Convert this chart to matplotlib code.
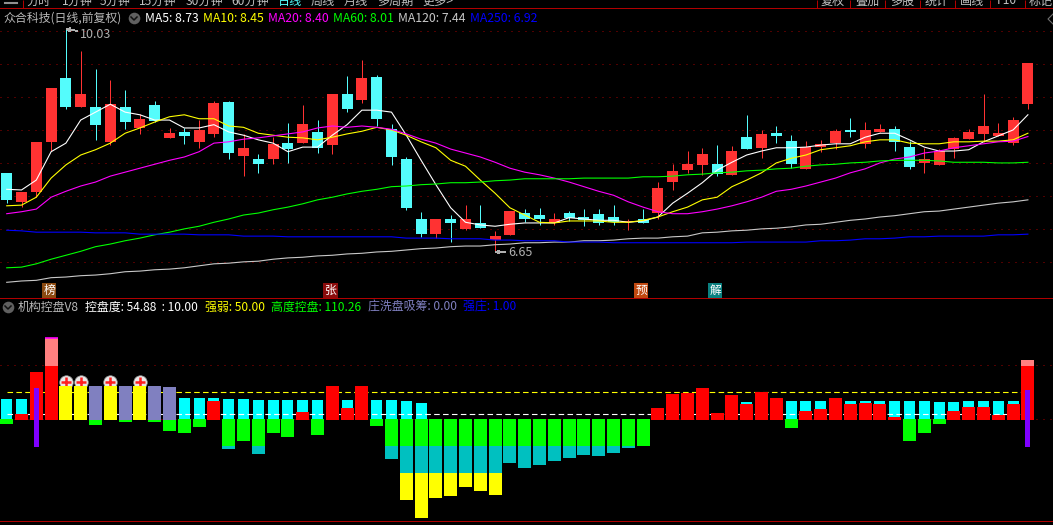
import matplotlib
matplotlib.use('Agg')
import matplotlib.pyplot as plt
import numpy as np

plt.rcParams['font.family'] = ['Noto Sans CJK SC', 'DejaVu Sans']
plt.rcParams['patch.antialiased'] = False

# daily candles
opens = [7.85,7.41,7.56,8.32,9.29,8.85,8.85,8.32,8.85,8.53,8.88,8.38,8.47,8.32,8.44,8.92,8.11,8.06,8.06,8.30,8.30,8.47,8.27,9.05,
         8.95,9.30,8.51,8.06,7.15,6.92,7.15,7.00,7.09,6.83,6.91,7.24,7.21,7.09,7.24,7.18,7.23,7.18,7.10,7.15,7.24,7.71,7.89,7.97,
         7.98,7.82,8.39,8.23,8.45,8.33,7.91,8.24,8.30,8.50,8.29,8.47,8.51,8.24,8.00,7.97,8.21,8.36,8.44,8.41,8.30,8.89]
closes = [7.44,7.56,8.32,9.14,8.85,9.05,8.58,8.89,8.62,8.67,8.64,8.45,8.41,8.50,8.91,8.15,8.23,7.98,8.29,8.21,8.59,8.23,9.05,8.82,
          9.29,8.67,8.09,7.32,6.92,7.15,7.09,7.15,7.01,6.89,7.27,7.15,7.15,7.15,7.17,7.13,7.09,7.10,7.12,7.09,7.62,7.88,7.98,8.14,
          7.83,8.18,8.21,8.44,8.41,7.98,8.24,8.29,8.48,8.47,8.50,8.51,8.32,7.94,8.06,8.18,8.38,8.47,8.56,8.45,8.65,9.51]
highs = [7.85,7.56,8.32,9.14,10.03,9.70,9.42,9.26,9.11,8.74,8.94,8.53,8.53,8.65,8.94,8.94,8.44,8.14,8.39,8.61,8.88,8.65,9.05,9.32,
         9.56,9.33,8.59,8.09,7.26,7.15,7.21,7.36,7.36,6.97,7.27,7.30,7.32,7.24,7.27,7.30,7.30,7.36,7.15,7.30,7.71,7.98,8.18,8.23,
         8.27,8.26,8.73,8.50,8.56,8.42,8.33,8.35,8.51,8.68,8.62,8.59,8.56,8.33,8.23,8.21,8.39,8.51,9.05,8.61,8.70,9.51]
lows = [7.39,7.33,7.48,8.18,8.82,8.85,8.35,8.27,8.51,8.44,8.62,8.38,8.29,8.23,8.39,8.06,7.80,7.85,7.98,8.00,8.30,8.15,8.14,8.77,
        8.91,8.56,7.97,7.29,6.88,6.86,6.80,6.98,7.01,6.65,6.91,7.10,7.06,7.06,7.12,7.04,7.06,7.06,6.98,7.09,7.15,7.59,7.85,7.82,
        7.80,7.82,8.21,8.07,8.30,7.92,7.91,8.17,8.21,8.39,8.23,8.47,8.18,7.91,7.85,7.97,8.07,8.36,8.32,8.41,8.27,8.82]

ma5 = [7.60,7.59,7.74,8.17,8.30,8.65,8.77,8.89,8.77,8.73,8.65,8.65,8.53,8.53,8.58,8.47,8.42,8.35,8.30,8.17,8.24,8.24,8.42,8.58,
       8.80,8.80,8.77,8.42,8.04,7.67,7.32,7.10,7.06,7.04,7.07,7.09,7.09,7.09,7.17,7.15,7.13,7.13,7.10,7.12,7.18,7.39,7.54,7.70,
       7.89,8.01,8.12,8.18,8.23,8.23,8.24,8.27,8.29,8.29,8.39,8.45,8.45,8.35,8.24,8.18,8.18,8.20,8.32,8.41,8.50,8.73]
ma10 = [7.35,7.36,7.48,7.77,7.97,8.12,8.20,8.30,8.45,8.53,8.62,8.70,8.73,8.67,8.67,8.56,8.54,8.45,8.42,8.39,8.38,8.35,8.39,8.44,
        8.48,8.54,8.50,8.42,8.32,8.23,8.04,7.95,7.74,7.54,7.32,7.21,7.10,7.09,7.12,7.12,7.12,7.10,7.10,7.13,7.18,7.26,7.33,7.44,
        7.48,7.64,7.74,7.85,8.00,8.07,8.12,8.20,8.23,8.26,8.32,8.35,8.35,8.30,8.29,8.29,8.32,8.32,8.33,8.33,8.35,8.45]
ma20 = [7.23,7.26,7.30,7.48,7.57,7.65,7.71,7.80,7.86,7.92,7.98,8.04,8.09,8.17,8.30,8.32,8.36,8.38,8.41,8.44,8.47,8.53,8.56,8.54,
        8.56,8.54,8.51,8.44,8.36,8.30,8.21,8.15,8.09,8.01,7.92,7.86,7.82,7.77,7.71,7.64,7.57,7.51,7.41,7.33,7.26,7.23,7.23,7.26,
        7.30,7.35,7.41,7.48,7.57,7.60,7.65,7.71,7.77,7.85,7.91,8.00,8.06,8.09,8.15,8.18,8.23,8.26,8.29,8.32,8.33,8.40]
ma60 = [6.41,6.42,6.47,6.54,6.60,6.66,6.73,6.77,6.82,6.86,6.91,6.95,7.00,7.04,7.10,7.15,7.21,7.24,7.29,7.33,7.38,7.44,7.48,7.53,
        7.57,7.60,7.64,7.65,7.67,7.68,7.70,7.70,7.71,7.73,7.74,7.76,7.76,7.76,7.76,7.77,7.77,7.77,7.77,7.79,7.79,7.80,7.82,7.83,
        7.85,7.86,7.88,7.89,7.91,7.92,7.95,7.97,7.98,8.00,8.01,8.03,8.04,8.04,8.04,8.03,8.01,8.01,8.01,8.00,8.00,8.01]
ma120 = [6.19,6.21,6.22,6.26,6.27,6.29,6.30,6.32,6.35,6.36,6.38,6.39,6.41,6.44,6.47,6.48,6.50,6.51,6.54,6.56,6.57,6.59,6.60,6.62,
         6.63,6.65,6.66,6.68,6.70,6.71,6.73,6.74,6.74,6.76,6.77,6.79,6.79,6.80,6.80,6.82,6.82,6.83,6.85,6.86,6.86,6.88,6.89,6.94,
         6.95,6.97,6.98,7.00,7.01,7.03,7.06,7.07,7.10,7.13,7.15,7.18,7.20,7.23,7.26,7.27,7.30,7.33,7.36,7.39,7.41,7.44]
ma250 = [6.98,6.97,6.95,6.95,6.95,6.95,6.94,6.94,6.94,6.92,6.92,6.92,6.92,6.91,6.91,6.91,6.89,6.89,6.89,6.88,6.88,6.88,6.88,6.88,
         6.88,6.88,6.88,6.86,6.86,6.86,6.85,6.85,6.85,6.83,6.83,6.82,6.82,6.82,6.80,6.80,6.80,6.79,6.79,6.79,6.79,6.79,6.79,6.79,
         6.79,6.79,6.80,6.80,6.80,6.80,6.80,6.82,6.82,6.83,6.85,6.85,6.86,6.88,6.88,6.89,6.89,6.89,6.89,6.91,6.91,6.92]

price_grid = [10.0, 9.5, 9.0, 8.5, 8.0, 7.5, 7.0, 6.5]

badge_idx = [3, 22, 43, 48]
badge_txt = ['榜', '张', '预', '解']
badge_col = ['#8b4a10', '#8a0c0c', '#c04810', '#0a8080']

# indicator panel
cyan_top = [37.8,37.8,0,0,0,0,0,0,0,0,0,0,39.7,39.7,39.7,37.8,37.8,36,36,36,36,36,0,36,
            0,36,36,34.2,30.5,0,0,0,0,0,0,0,0,0,0,0,0,0,0,0,0,0,0,0,
            0,0,32.3,0,0,34.2,34.2,34.2,0,34.2,34.2,34.2,34.2,34.2,34.2,32.3,32.3,34.2,34.2,34.2,34.2,0]
red_top = [0,10.2,87.7,98.8,0,0,0,0,0,0,0,0,0,0,34.2,0,0,0,0,0,13.8,0,61.8,21.2,
           61.8,0,0,0,0,0,0,0,0,0,0,0,0,0,0,0,0,0,0,0,21.2,47,48.9,58.2,
           12,45.2,28.6,50.8,39.7,0,15.7,19.4,39.7,28.6,30.5,28.6,4.6,0,0,0,15.7,23.1,23.1,8.3,28.6,98.8]
green_low = [-8.3,0,0,0,0,0,-10.2,0,-4.6,0,-4.6,-21.2,-24.9,-13.8,0,-48.9,-39.7,-48.9,-24.9,-32.3,0,-28.6,0,0,
             0,-12,-48.9,-48.9,-48.9,-48.9,-48.9,-48.9,-48.9,-48.9,-48.9,-48.9,-48.9,-48.9,-48.9,-48.9,-48.9,-48.9,-48.9,-48.9,0,0,0,0,
             0,0,0,0,0,-15.7,0,0,0,0,0,0,0,-39.7,-24.9,-8.3,0,0,0,0,0,0]
teal_idx = [15,17,26,27,28,29,30,31,32,33,34,35,36,37,38,39,40,41,42]
teal_low = [-54.5,-63.7,-72.9,-98.8,-98.8,-98.8,-98.8,-98.8,-98.8,-98.8,-80.3,-89.5,-84,-76.6,-71.1,-65.5,-67.4,-61.8,-52.6]
deep_idx = [27,28,29,30,31,32,33]
deep_low = [-148.6,-181.9,-144.9,-141.2,-124.6,-132,-139.4]
yellow_idx = [4,5,7,9]
yellow_top = [61.8,61.8,61.8,61.8]
slate_idx = [6,8,10,11]
slate_top = [61.8,61.8,61.8,60]
pink_idx = [3,69]
pink_top = [150.5,110.26]
stick_idx = [2,69]
stick_top = [58.2,54.88]
stick_low = [-50.8,-50.8]
plus_y = 70

W, H = 1053, 525
BG = 'black'
LINE_RED = '#b00000'
GRID_RED = '#a00000'
UP_COL = '#ff3232'
DOWN_COL = '#54fcfc'

x = np.arange(len(opens))
xlim = (-6.7 / 14.8, (W - 6.7) / 14.8)

fig = plt.figure(figsize=(W / 100, H / 100), dpi=100, facecolor=BG)

ax = fig.add_axes([0, 1 - 298 / H, 1, 290 / H], facecolor=BG)
ax.set_xlim(xlim)
ax.set_ylim(5.952, 10.349)
ax.axis('off')

for g in price_grid:
    ax.axhline(g, color=GRID_RED, lw=0.72, ls=(0, (1, 6)), zorder=1)

for i in x:
    col = UP_COL if closes[i] >= opens[i] else DOWN_COL
    ax.vlines(i, lows[i], highs[i], color=col, lw=0.72, zorder=2)
    ax.bar(i, abs(closes[i] - opens[i]), bottom=min(opens[i], closes[i]), width=0.74, color=col, lw=0, zorder=3)

for vals, col in [(ma5, 'white'), (ma10, '#ffff00'), (ma20, '#ff00ff'), (ma60, '#00ff00'), (ma120, '#c8c8c8'), (ma250, '#0000ff')]:
    ax.plot(x, vals, color=col, lw=0.8, zorder=4)

ax.annotate('10.03', xy=(4, max(highs)), xytext=(14, -5), textcoords='offset pixels', color='#b0b0b0', fontsize=9, va='center',
            arrowprops=dict(arrowstyle='-|>,head_width=0.12,head_length=0.25', color='#b0b0b0', lw=0.6, shrinkA=0, shrinkB=0))
ax.annotate('6.65', xy=(33, min(lows)), xytext=(13, -1), textcoords='offset pixels', color='#b0b0b0', fontsize=9, va='center',
            arrowprops=dict(arrowstyle='-|>,head_width=0.12,head_length=0.25', color='#b0b0b0', lw=0.6, shrinkA=0, shrinkB=0))

for i, t, c in zip(badge_idx, badge_txt, badge_col):
    ax.text(i - 0.13, 6.06, t, color='white', fontsize=8.5, ha='center', va='center', zorder=5,
            bbox=dict(facecolor=c, edgecolor='none', pad=1))

# lower panel
ax2 = fig.add_axes([0, 1 - 521 / H, 1, 223 / H], facecolor=BG)
ax2.set_xlim(xlim)
ax2.set_ylim(-187.4, 224.3)
ax2.axis('off')

ax2.axhline(100, color=GRID_RED, lw=0.72, ls=(0, (1, 6)), zorder=1)
ax2.axhline(0, color=GRID_RED, lw=0.72, ls=(0, (1, 6)), zorder=1)

UP_BASE = -0.9
DOWN_BASE = 0.9

def stack(ax_, xs, tops, bottoms, col, width, z):
    xs = np.asarray(xs, float)
    tops = np.asarray(tops, float)
    bottoms = np.asarray(bottoms, float)
    ax_.bar(xs, tops - bottoms, bottom=bottoms, width=width, color=col, lw=0, zorder=z)

cy = [i for i in x if cyan_top[i] != 0]
stack(ax2, cy, [cyan_top[i] for i in cy], [DOWN_BASE] * len(cy), '#00ffff', 0.74, 2)

ax2.hlines(10, 0, 69, color='white', lw=0.8, ls=(0, (5, 3)), zorder=3)
ax2.hlines(50, 0, 69, color='#ffff00', lw=0.8, ls=(0, (5, 3)), zorder=3)

gr = [i for i in x if green_low[i] != 0]
stack(ax2, teal_idx, [-48.9] * len(teal_idx), teal_low, '#00c0c0', 0.88, 4)
stack(ax2, deep_idx, [-98.8] * len(deep_idx), deep_low, '#ffff00', 0.88, 4)
stack(ax2, gr, [DOWN_BASE] * len(gr), [green_low[i] for i in gr], '#00ff00', 0.88, 5)

rd = [i for i in x if red_top[i] != 0]
stack(ax2, rd, [red_top[i] for i in rd], [UP_BASE] * len(rd), '#ff0000', 0.88, 5)
stack(ax2, pink_idx, pink_top, [red_top[i] for i in pink_idx], '#ff8080', 0.88, 5)
ax2.hlines(pink_top[0], pink_idx[0] - 0.44, pink_idx[0] + 0.44, color='#ff00ff', lw=1.2, zorder=6)

ax2.scatter(yellow_idx, [plus_y] * len(yellow_idx), s=95, color='#e8e8e8', edgecolors='#909090', linewidths=0.5, zorder=4)
ax2.scatter(yellow_idx, [plus_y] * len(yellow_idx), s=55, marker='+', color='#ff2020', linewidths=1.8, zorder=4.5)
stack(ax2, yellow_idx, yellow_top, [UP_BASE] * len(yellow_idx), '#ffff00', 0.88, 5)
stack(ax2, slate_idx, slate_top, [UP_BASE] * len(slate_idx), '#8080c0', 0.88, 5)
stack(ax2, stick_idx, stick_top, stick_low, '#8000ff', 0.34, 7)

# frame lines
for py in [8, 298, 521]:
    fig.add_artist(plt.Line2D([0, 1], [1 - py / H] * 2, color=LINE_RED, lw=0.72))

# tab strip, cut off by the top edge
ax3 = fig.add_axes([0, 1 - 8 / H, 1, 8 / H], facecolor=BG)
ax3.set_xlim(0, W)
ax3.set_ylim(8, 0)
ax3.axis('off')
left_tabs = ['分时', '1分钟', '5分钟', '15分钟', '30分钟', '60分钟', '日线', '周线', '月线', '多周期', '更多>']
left_x = [39, 77, 115, 158, 204, 250, 290, 323, 356, 395, 438]
for t, px in zip(left_tabs, left_x):
    ax3.text(px, 1, t, color='#54fcfc' if t == '日线' else '#c0c0c0', fontsize=8.7, ha='center', va='center', clip_on=True)
right_tabs = ['复权', '叠加', '多股', '统计', '画线', 'F10', '标记']
right_x = [833, 867, 902, 937, 972, 1007, 1041]
for t, px in zip(right_tabs, right_x):
    ax3.text(px, 1, t, color='#c0c0c0', fontsize=8.7, ha='center', va='center', clip_on=True)
ax3.vlines([23, 817, 850, 885, 920, 955, 990, 1025], 0, 8, color=LINE_RED, lw=0.72)
ax3.plot([5, 17], [3, 3], color='#909090', lw=1.5)

# header rows
def header(px, py, s, col, size=8.6):
    fig.text(px / W, 1 - py / H, s, color=col, fontsize=size, ha='left', va='center')

header(3, 18, '众合科技(日线,前复权)', '#b8b8b8')
header(145, 18, 'MA5: 8.73', 'white', 8.8)
header(203, 18, 'MA10: 8.45', '#ffff00', 8.8)
header(268, 18, 'MA20: 8.40', '#ff00ff', 8.8)
header(333, 18, 'MA60: 8.01', '#00ff00', 8.8)
header(398, 18, 'MA120: 7.44', '#c8c8c8', 8.8)
header(470, 18, 'MA250: 6.92', '#0000ff', 8.8)
header(18, 307, '机构控盘V8', '#b8b8b8')
header(85, 307, '控盘度: 54.88  : 10.00', 'white')
header(205, 307, '强弱: 50.00', '#ffff00')
header(271, 307, '高度控盘: 110.26', '#00ff00')
header(368, 307, '庄洗盘吸筹: 0.00', '#8080c0')
header(463, 307, '强庄: 1.00', '#0000ff')

# round chevron buttons and the small arrow at the right edge
ax4 = fig.add_axes([0, 0, 1, 1], facecolor='none')
ax4.set_xlim(0, W)
ax4.set_ylim(H, 0)
ax4.axis('off')
for bx, by in [(134, 18), (8, 307)]:
    ax4.scatter([bx], [by], s=70, color='#606060', lw=0, antialiased=True)
    ax4.plot([bx - 3, bx, bx + 3], [by - 1, by + 2, by - 1], color='#101010', lw=1.1)
ax4.plot([1053, 1048, 1053], [14, 19, 24], color='#707070', lw=0.8)

fig.savefig('out.png', dpi=100, facecolor=BG)
